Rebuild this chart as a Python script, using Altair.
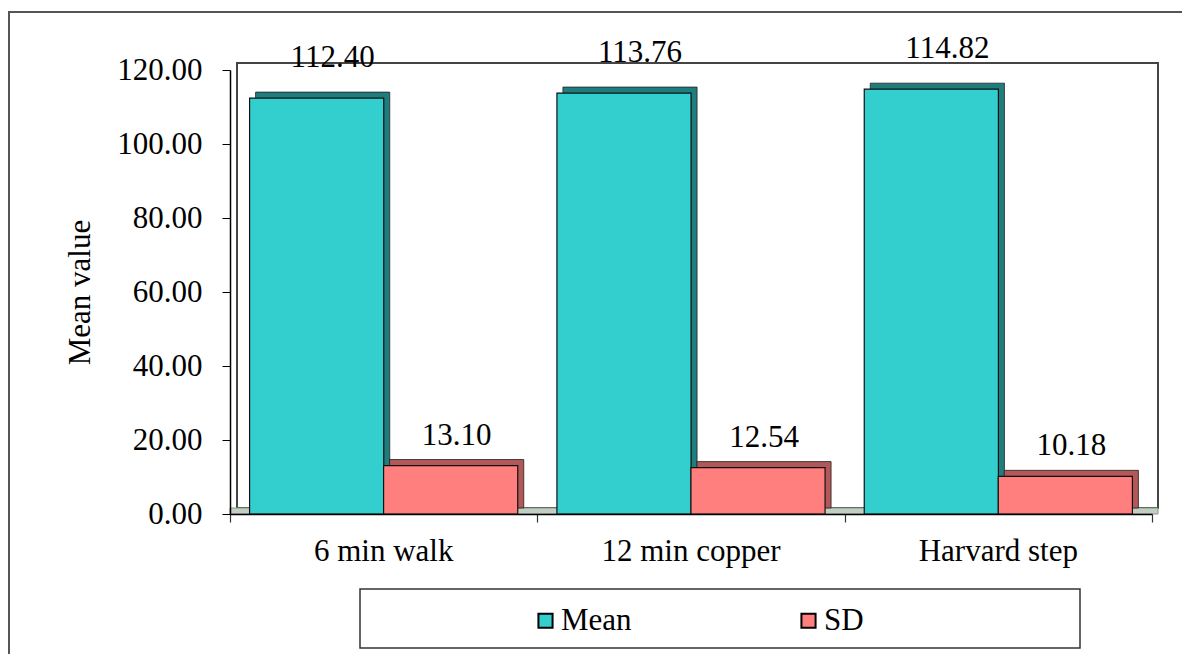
import altair as alt
import pandas as pd

categories = ["6 min walk", "12 min copper", "Harvard step"]
mean_values = [112.40, 113.76, 114.82]
sd_values = [13.10, 12.54, 10.18]
series_names = ["Mean", "SD"]
y_ticks = [0, 20, 40, 60, 80, 100, 120]

rows = []
for c, m, s in zip(categories, mean_values, sd_values):
    rows.append({"cat": c, "series": "Mean", "value": m})
    rows.append({"cat": c, "series": "SD", "value": s})
df = pd.DataFrame(rows)

FONT = "Liberation Serif, Times New Roman, serif"
FS = 31
W, H = 922, 444
front = {"Mean": "#33CFCF", "SD": "#FF7F7F"}
side = {"Mean": "#1F7D7D", "SD": "#B25858"}
off = {"Mean": -67, "SD": 67}
label_dy = {"Mean": -40, "SD": -30}
label_dx = {"Mean": 16, "SD": 6}

xscale = alt.Scale(domain=categories, paddingInner=0.127, paddingOuter=0.0635)
xscale_ticks = alt.Scale(domain=categories, paddingInner=0, paddingOuter=0)
yscale = alt.Scale(domain=[0, 120], nice=False)
color_scale = alt.Scale(domain=series_names, range=[front["Mean"], front["SD"]])

base = alt.Chart(df)

# decorative frames
outer = alt.Chart(pd.DataFrame({"k": [0]})).mark_rect(
    fill="white", stroke="#555555", strokeWidth=2
).encode(x=alt.value(-221), x2=alt.value(1100), y=alt.value(-58), y2=alt.value(700))

wall = alt.Chart(pd.DataFrame({"k": [0]})).mark_rect(
    fill="white", stroke="#444444", strokeWidth=2
).encode(x=alt.value(7), x2=alt.value(W + 6), y=alt.value(-7), y2=alt.value(H - 6))

floor = alt.Chart(pd.DataFrame({"k": [0]})).mark_rect(
    fill="#C3CEC3", stroke="#8A948A", strokeWidth=1
).encode(x=alt.value(0), x2=alt.value(W + 6), y=alt.value(H - 6), y2=alt.value(H))

legend_box = alt.Chart(pd.DataFrame({"k": [0]})).mark_rect(
    fill="white", stroke="#333333", strokeWidth=1.5
).encode(x=alt.value(130), x2=alt.value(850), y=alt.value(519), y2=alt.value(578))

# invisible layer carrying the boundary ticks of the category axis
tick_layer = base.mark_bar(opacity=0).encode(
    x=alt.X("cat:N", scale=xscale_ticks, sort=categories,
            axis=alt.Axis(title=None, orient="bottom", labels=False, domain=False,
                          tickBand="extent", tickSize=8, tickColor="#333333",
                          tickWidth=1.2, zindex=1)),
)

layers = [outer, wall, floor, legend_box, tick_layer]

for s in series_names:
    sub = base.transform_filter(alt.datum.series == s)
    back = sub.mark_bar(
        width=alt.RelativeBandSize(0.5), xOffset=off[s] + 6, yOffset=-6,
        color=side[s], stroke="#222222", strokeWidth=0.8
    ).encode(
        x=alt.X("cat:N", scale=xscale, sort=categories, axis=None),
        y=alt.Y("value:Q", scale=yscale),
    )
    layers.append(back)

for i, s in enumerate(series_names):
    sub = base.transform_filter(alt.datum.series == s)
    xaxis = alt.Axis(title=None, orient="bottom", labelFont=FONT,
                     labelFontSize=FS, labelColor="black", labelAngle=0,
                     labelPadding=22, ticks=False,
                     domainColor="black", domainWidth=1.5, zindex=1) if i == 0 else None
    fr = sub.mark_bar(
        width=alt.RelativeBandSize(0.5), xOffset=off[s],
        stroke="#111111", strokeWidth=1.2
    ).encode(
        x=alt.X("cat:N", scale=xscale, sort=categories, axis=xaxis),
        y=alt.Y("value:Q", scale=yscale,
                axis=alt.Axis(title="Mean value", values=y_ticks, format=".2f",
                              labelFont=FONT, labelFontSize=FS, labelColor="black",
                              labelPadding=20, tickSize=8, tickColor="black",
                              domainColor="black", domainWidth=1.5, grid=False,
                              zindex=1,
                              titleFont=FONT, titleFontSize=FS, titleFontWeight="normal",
                              titleColor="black", titleX=-150, titleY=H / 2,
                              titleAngle=270, titleAlign="center", titleBaseline="middle")),
        color=alt.Color("series:N", scale=color_scale, title=None,
                        legend=alt.Legend(orient="none", legendX=300, legendY=535,
                                          direction="horizontal", symbolType="square",
                                          symbolSize=200, symbolStrokeColor="black",
                                          symbolStrokeWidth=2, labelFont=FONT,
                                          labelFontSize=FS, labelColor="black",
                                          labelOffset=0, columnPadding=161)),
    )
    layers.append(fr)

for s in series_names:
    sub = base.transform_filter(alt.datum.series == s)
    txt = sub.mark_text(
        font=FONT, fontSize=FS, color="black", baseline="middle",
        xOffset=off[s] + label_dx[s], dy=label_dy[s]
    ).encode(
        x=alt.X("cat:N", scale=xscale, sort=categories, axis=None),
        y=alt.Y("value:Q", scale=yscale),
        text=alt.Text("value:Q", format=".2f"),
    )
    layers.append(txt)

chart = alt.layer(*layers).resolve_scale(x="independent").resolve_axis(
    x="independent"
).properties(
    width=W, height=H,
    autosize=alt.AutoSizeParams(type="none"),
    padding={"left": 222, "top": 62, "right": 30, "bottom": 140},
).configure_view(stroke=None).configure(background="white")

chart.save("out.html", embed_options={"renderer": "svg", "actions": False})
